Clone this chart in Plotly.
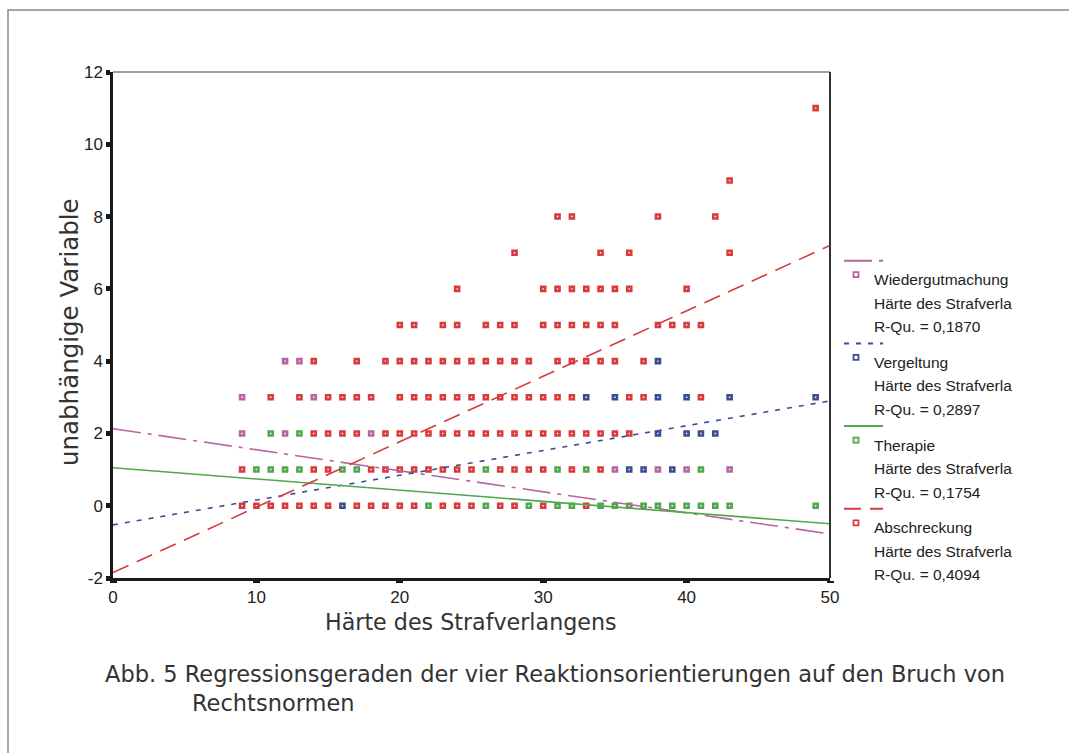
import plotly.graph_objects as go

# ---------------- data ----------------
x_ticks = [0, 10, 20, 30, 40, 50]
y_ticks = [-2, 0, 2, 4, 6, 8, 10, 12]
y_ticktext = ["-2", "0", "2", "4", "6", "8", "10", "12"]

series_names = ["Wiedergutmachung", "Vergeltung", "Therapie", "Abschreckung"]
r_squared = ["0,1870", "0,2897", "0,1754", "0,4094"]
series_colors = ["#b8649f", "#3b4c94", "#4fa84b", "#d93a3b"]
line_dashes = ["28px,7px,4px,7px", "5px,7px", "solid", "17px,9px"]

# fitted lines: intercept and slope
fit_intercepts = [2.13, -0.53, 1.05, -1.85]
fit_slopes = [-0.0582, 0.0686, -0.031, 0.181]
fit_x_range = [0, 50]

wied_x = [12, 13, 9, 14, 9, 12, 18, 35, 38, 40, 43]
wied_y = [4, 4, 3, 3, 2, 2, 2, 1, 1, 1, 1]

verg_x = [38, 33, 35, 38, 40, 43, 49, 38, 40, 41, 42, 36, 37, 39, 16]
verg_y = [4, 3, 3, 3, 3, 3, 3, 2, 2, 2, 2, 1, 1, 1, 0]

ther_x = [11, 13,
          10, 11, 12, 13, 16, 17, 26, 31, 33, 41,
          22, 26, 29, 31, 32, 34, 35, 36, 37, 38, 39, 40, 41, 42, 43, 49]
ther_y = [2, 2,
          1, 1, 1, 1, 1, 1, 1, 1, 1, 1,
          0, 0, 0, 0, 0, 0, 0, 0, 0, 0, 0, 0, 0, 0, 0, 0]

absch_rows = {
    11: [49],
    9: [43],
    8: [31, 32, 38, 42],
    7: [28, 34, 36, 43],
    6: [24, 30, 31, 32, 33, 34, 35, 36, 40],
    5: [20, 21, 23, 24, 26, 27, 28, 30, 31, 32, 33, 34, 35, 38, 39, 40, 41],
    4: [14, 17, 19, 20, 21, 22, 23, 24, 25, 26, 27, 28, 29, 31, 32, 33, 34, 35, 37],
    3: [11, 13, 15, 16, 17, 18, 20, 21, 22, 23, 24, 25, 26, 27, 28, 29, 30, 31, 32, 36, 37, 41],
    2: [14, 15, 16, 17, 19, 20, 21, 22, 23, 24, 25, 26, 27, 28, 29, 30, 31, 32, 33, 34, 35, 36],
    1: [9, 14, 15, 18, 19, 20, 21, 22, 23, 24, 25, 27, 28, 29, 30, 32, 34],
    0: [9, 10, 11, 12, 13, 14, 15, 17, 18, 19, 20, 21, 23, 24, 25, 27, 28, 30, 33],
}
absch_x = [x for yv, xs in absch_rows.items() for x in xs]
absch_y = [yv for yv, xs in absch_rows.items() for x in xs]

x_title = "Härte des Strafverlangens"
y_title = "unabhängige Variable"
legend_sub = "Härte des Strafverla"
caption_1 = "Abb. 5 Regressionsgeraden der vier Reaktionsorientierungen auf den Bruch von"
caption_2 = "Rechtsnormen"

# ---------------- figure ----------------
W, H = 1069, 753
L, R, T, B = 113, 830, 72, 578


def px(xp, yp):
    return (xp - L) / (R - L), (B - yp) / (B - T)


fig = go.Figure()
points = [(wied_x, wied_y), (verg_x, verg_y), (ther_x, ther_y), (absch_x, absch_y)]
for i, (xs, ys) in enumerate(points):
    fig.add_trace(go.Scatter(
        x=xs, y=ys, mode="markers", showlegend=False,
        marker=dict(symbol="square-open", size=4, color=series_colors[i],
                    line=dict(width=2.6, color=series_colors[i])),
        cliponaxis=False,
    ))
for i in range(4):
    xs = fit_x_range
    ys = [fit_intercepts[i] + fit_slopes[i] * x for x in xs]
    fig.add_trace(go.Scatter(
        x=xs, y=ys, mode="lines", showlegend=False,
        line=dict(color=series_colors[i], width=1.6, dash=line_dashes[i]),
    ))

font_tick = "Liberation Sans, Arial, sans-serif"
font_title = "DejaVu Sans, sans-serif"
font_leg = "Liberation Sans Narrow, Arial Narrow, Liberation Sans, sans-serif"

shapes = []
annotations = []

# plot box: top and right borders
shapes.append(dict(type="line", xref="paper", yref="paper", x0=0, x1=1, y0=1, y1=1,
                   line=dict(color="#444", width=1.2)))
shapes.append(dict(type="line", xref="paper", yref="paper", x0=1, x1=1, y0=0, y1=1,
                   line=dict(color="#333", width=2)))

# outer frame
fx0, fy0 = px(8, 760)
fx1, fy1 = px(8, 10)
fx2, fy2 = px(1075, 10)
shapes.append(dict(type="path", xref="paper", yref="paper",
                   path=f"M {fx0},{fy0} L {fx1},{fy1} L {fx2},{fy2}",
                   line=dict(color="#8a8a8a", width=1.5)))

# legend
for i in range(4):
    base = 260.7 + i * 82.7
    lx0, ly = px(844, base)
    lx1, _ = px(883, base)
    shapes.append(dict(type="line", xref="paper", yref="paper", x0=lx0, x1=lx1, y0=ly, y1=ly,
                       line=dict(color=series_colors[i], width=2, dash=line_dashes[i])))
    mx0, my0 = px(853.5, base + 16.5)
    mx1, my1 = px(858.5, base + 11.5)
    shapes.append(dict(type="rect", xref="paper", yref="paper", x0=mx0, x1=mx1, y0=my0, y1=my1,
                       line=dict(color=series_colors[i], width=1.8), fillcolor="white"))
    texts = [series_names[i], legend_sub, f"R-Qu. = {r_squared[i]}"]
    for k, t in enumerate(texts):
        tx, ty = px(872, base + 19 + k * 23.5)
        annotations.append(dict(text=t, xref="paper", yref="paper", x=tx, y=ty,
                                xanchor="left", yanchor="middle", showarrow=False,
                                font=dict(family=font_leg, size=15.5, color="#222")))

# axis titles
ax, ay = px(471, 622)
annotations.append(dict(text=x_title, xref="paper", yref="paper", x=ax, y=ay,
                        xanchor="center", yanchor="middle", showarrow=False,
                        font=dict(family=font_title, size=22.2, color="#333")))
ax, ay = px(70, 332)
annotations.append(dict(text=y_title, xref="paper", yref="paper", x=ax, y=ay, textangle=-90,
                        xanchor="center", yanchor="middle", showarrow=False,
                        font=dict(family=font_title, size=24.5, color="#333")))

# caption
cx, cy = px(103, 674)
annotations.append(dict(text=caption_1, xref="paper", yref="paper", x=cx, y=cy,
                        xanchor="left", yanchor="middle", showarrow=False,
                        font=dict(family=font_title, size=22.5, color="#333")))
cx, cy = px(190, 703)
annotations.append(dict(text=caption_2, xref="paper", yref="paper", x=cx, y=cy,
                        xanchor="left", yanchor="middle", showarrow=False,
                        font=dict(family=font_title, size=22.5, color="#333")))

fig.update_layout(
    width=W, height=H,
    margin=dict(l=L, r=W - R, t=T, b=H - B, pad=0),
    paper_bgcolor="white", plot_bgcolor="white",
    shapes=shapes, annotations=annotations,
    showlegend=False,
)
fig.update_xaxes(
    range=[0, 50], tickvals=x_ticks, ticktext=[str(v) for v in x_ticks],
    showgrid=False, zeroline=False, showline=True, linecolor="#1a1a1a", linewidth=2.5,
    ticks="outside", ticklen=2, tickwidth=7, tickcolor="#1a1a1a",
    tickfont=dict(family=font_tick, size=17, color="#222"),
)
fig.update_yaxes(
    range=[-2, 12], tickvals=y_ticks, ticktext=y_ticktext,
    showgrid=False, zeroline=False, showline=True, linecolor="#1a1a1a", linewidth=2.5,
    ticks="outside", ticklen=4, tickwidth=5, tickcolor="#1a1a1a",
    tickfont=dict(family=font_tick, size=17, color="#222"),
)

fig.write_html("out.html", config={"displayModeBar": False},
               post_script="document.body.style.margin='0';")
